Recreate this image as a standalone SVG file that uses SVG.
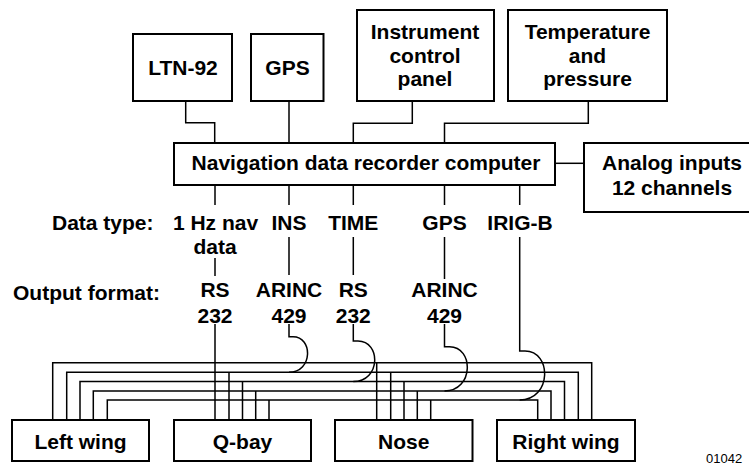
<svg xmlns="http://www.w3.org/2000/svg" width="749" height="466" viewBox="0 0 749 466">
<style>
.box{fill:#fff;stroke:#000;stroke-width:2}
.ln{fill:none;stroke:#000;stroke-width:1.5}
text{font-family:"Liberation Sans",Arial,Helvetica,sans-serif;font-weight:bold;font-size:21px;fill:#000}
.c{text-anchor:middle}
.id{font-weight:normal;font-size:13px}
</style>
<rect width="749" height="466" fill="#fff"/>
<g id="connectors" class="ln">
<path d="M185.7 101 V122.7 H214.7 V143"/>
<path d="M289 101 V143"/>
<path d="M412.3 101 V123.3 H353.3 V143"/>
<path d="M588.3 101 V123.3 H444.5 V143"/>
<path d="M555 163.3 H584"/>
<path d="M215 185 V205 M215 258 V276 M215 324 V420"/>
<path d="M289 185 V205 M289 237 V275 M289 324 V336.7 H293 C313 336.7 313 372.3 289 372.3"/>
<path d="M353.3 185 V205 M353.3 237 V275 M353.3 324 V341 H358 C381 341 381 381.5 353.3 381.5"/>
<path d="M444.5 185 V205 M444.5 237 V279 M444.5 324 V346.7 H449.5 C474 346.7 474 391 444.5 391"/>
<path d="M519.7 185 V205 M519.7 237 V351 H525 C552 351 552 400 519.7 400"/>
<path d="M52.7 420 V362.7 H591.7 V420"/>
<path d="M66.7 420 V372.3 H578.3 V420"/>
<path d="M80 420 V381.5 H564.5 V420"/>
<path d="M93.3 420 V391 H551 V420"/>
<path d="M107.3 420 V400 H537.7 V420"/>
<path d="M229 372.3 V420 M242.5 381.5 V420 M255.7 391 V420 M269 400 V420"/>
<path d="M376.7 362.7 V420 M390.7 372.3 V420 M404 381.5 V420 M417.3 391 V420 M430.7 400 V420"/>
</g>
<g id="ltn92"><rect class="box" x="133" y="34" width="99" height="67"/><text class="c" x="183" y="75">LTN-92</text></g>
<g id="gps"><rect class="box" x="251" y="34" width="72.5" height="67"/><text class="c" x="287.5" y="75">GPS</text></g>
<g id="instrument"><rect class="box" x="357" y="10" width="137" height="91"/><text class="c" x="425" y="39">Instrument</text><text class="c" x="425" y="63">control</text><text class="c" x="425" y="86">panel</text></g>
<g id="temperature"><rect class="box" x="508" y="10" width="159" height="91"/><text class="c" x="587.5" y="39">Temperature</text><text class="c" x="587.5" y="63">and</text><text class="c" x="587.5" y="86">pressure</text></g>
<g id="computer"><rect class="box" x="174" y="143" width="381" height="42"/><text class="c" x="366" y="170">Navigation data recorder computer</text></g>
<g id="analog"><rect class="box" x="584" y="143" width="180" height="69"/><text class="c" x="672" y="170">Analog inputs</text><text class="c" x="672" y="195">12 channels</text></g>
<g id="labels">
<text x="52" y="230">Data type:</text>
<text class="c" x="215.5" y="230">1 Hz nav</text>
<text class="c" x="215" y="253.5">data</text>
<text class="c" x="289" y="230">INS</text>
<text class="c" x="353.3" y="230">TIME</text>
<text class="c" x="444.5" y="230">GPS</text>
<text class="c" x="520" y="230">IRIG-B</text>
<text x="13" y="300">Output format:</text>
<text class="c" x="215" y="297">RS</text>
<text class="c" x="215" y="322.5">232</text>
<text class="c" x="289" y="297">ARINC</text>
<text class="c" x="289" y="322.5">429</text>
<text class="c" x="353.3" y="297">RS</text>
<text class="c" x="353.3" y="322.5">232</text>
<text class="c" x="444.5" y="297">ARINC</text>
<text class="c" x="444.5" y="322.5">429</text>
</g>
<g id="leftwing"><rect class="box" x="12" y="420" width="137" height="41"/><text class="c" x="80.5" y="449">Left wing</text></g>
<g id="qbay"><rect class="box" x="174" y="420" width="137" height="41"/><text class="c" x="242.5" y="449">Q-bay</text></g>
<g id="nose"><rect class="box" x="335" y="420" width="137.5" height="41"/><text class="c" x="403.7" y="449">Nose</text></g>
<g id="rightwing"><rect class="box" x="497" y="420" width="138" height="41"/><text class="c" x="566" y="449">Right wing</text></g>
<text class="id" x="706" y="463">01042</text>
</svg>
